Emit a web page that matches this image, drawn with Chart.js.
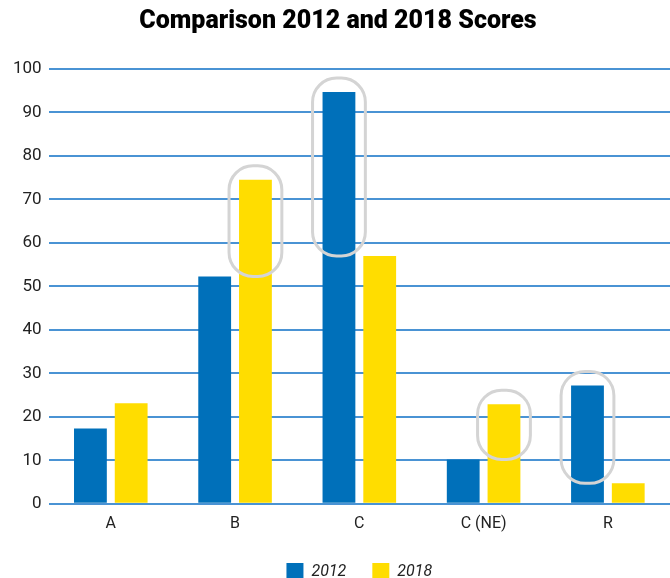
<!DOCTYPE html>
<html>
<head>
<meta charset="utf-8">
<script src="https://cdn.jsdelivr.net/npm/chart.js@4"></script>
<style>
  html, body { margin: 0; padding: 0; background: #fff; overflow: hidden; }
  #wrap { width: 670px; height: 590px; position: relative; }
</style>
</head>
<body>
<div id="wrap"><canvas id="myChart"></canvas></div>
<script>
// values
var categories = ['A', 'B', 'C', 'C (NE)', 'R'];
var scores2012 = [17.3, 52.3, 94.7, 10.2, 27.2];
var scores2018 = [23.1, 74.5, 57.0, 22.9, 4.7];
var yTicks = [0, 10, 20, 30, 40, 50, 60, 70, 80, 90, 100];

// which bars get the grey ring: [dataset, category]
var highlights = [[1, 1], [0, 2], [1, 3], [0, 4]];

var ringPlugin = {
    id: 'rings',
    afterDatasetsDraw: function(chart) {
        var ctx = chart.ctx;
        var y = chart.scales.y;
        ctx.save();
        ctx.strokeStyle = '#d4d4d4';
        ctx.lineWidth = 3;
        highlights.forEach(function(h) {
            var el = chart.getDatasetMeta(h[0]).data[h[1]];
            var other = chart.data.datasets[1 - h[0]].data[h[1]];
            var left = el.x - el.width / 2 - 10;
            var w = el.width + 20;
            var top = el.y - 14;
            var bottom = y.getPixelForValue(other);
            ctx.beginPath();
            ctx.roundRect(left, top, w, bottom - top, 24);
            ctx.stroke();
        });
        ctx.restore();
    }
};

var ctx = document.getElementById('myChart').getContext('2d');
var chart = new Chart(ctx, {
    type: 'bar',
    data: {
        labels: categories,
        datasets: [{
            label: '2012',
            data: scores2012,
            backgroundColor: '#0070ba'
        }, {
            label: '2018',
            data: scores2018,
            backgroundColor: '#ffdd00'
        }]
    },
    options: {
        responsive: true,
        maintainAspectRatio: false,
        animation: false,
        categoryPercentage: 0.656,
        barPercentage: 0.805,
        layout: { padding: { left: 6, right: 0, top: 7, bottom: 0 } },
        plugins: {
            title: {
                display: true,
                text: 'Comparison 2012 and 2018 Scores',
                color: '#000',
                font: { family: 'Roboto', size: 25, weight: 900 },
                padding: { top: 0, bottom: 32 }
            },
            legend: {
                position: 'bottom',
                fullSize: false,
                labels: {
                    boxWidth: 17,
                    boxHeight: 17,
                    padding: 26,
                    color: '#222',
                    font: { family: 'Roboto', size: 16, style: 'italic' }
                }
            },
            tooltip: { enabled: false }
        },
        scales: {
            x: {
                grid: { display: false },
                border: { display: false },
                ticks: {
                    color: '#222',
                    padding: 3,
                    font: { family: 'Roboto', size: 16 }
                }
            },
            y: {
                min: 0,
                max: 100,
                afterBuildTicks: function(axis) {
                    axis.ticks = yTicks.map(function(v) { return { value: v }; });
                },
                grid: { color: '#4a93d4', lineWidth: 2, drawTicks: false },
                border: { display: false },
                ticks: {
                    color: '#222',
                    padding: 7,
                    font: { family: 'Roboto', size: 17 }
                }
            }
        }
    },
    plugins: [ringPlugin]
});
</script>
</body>
</html>
